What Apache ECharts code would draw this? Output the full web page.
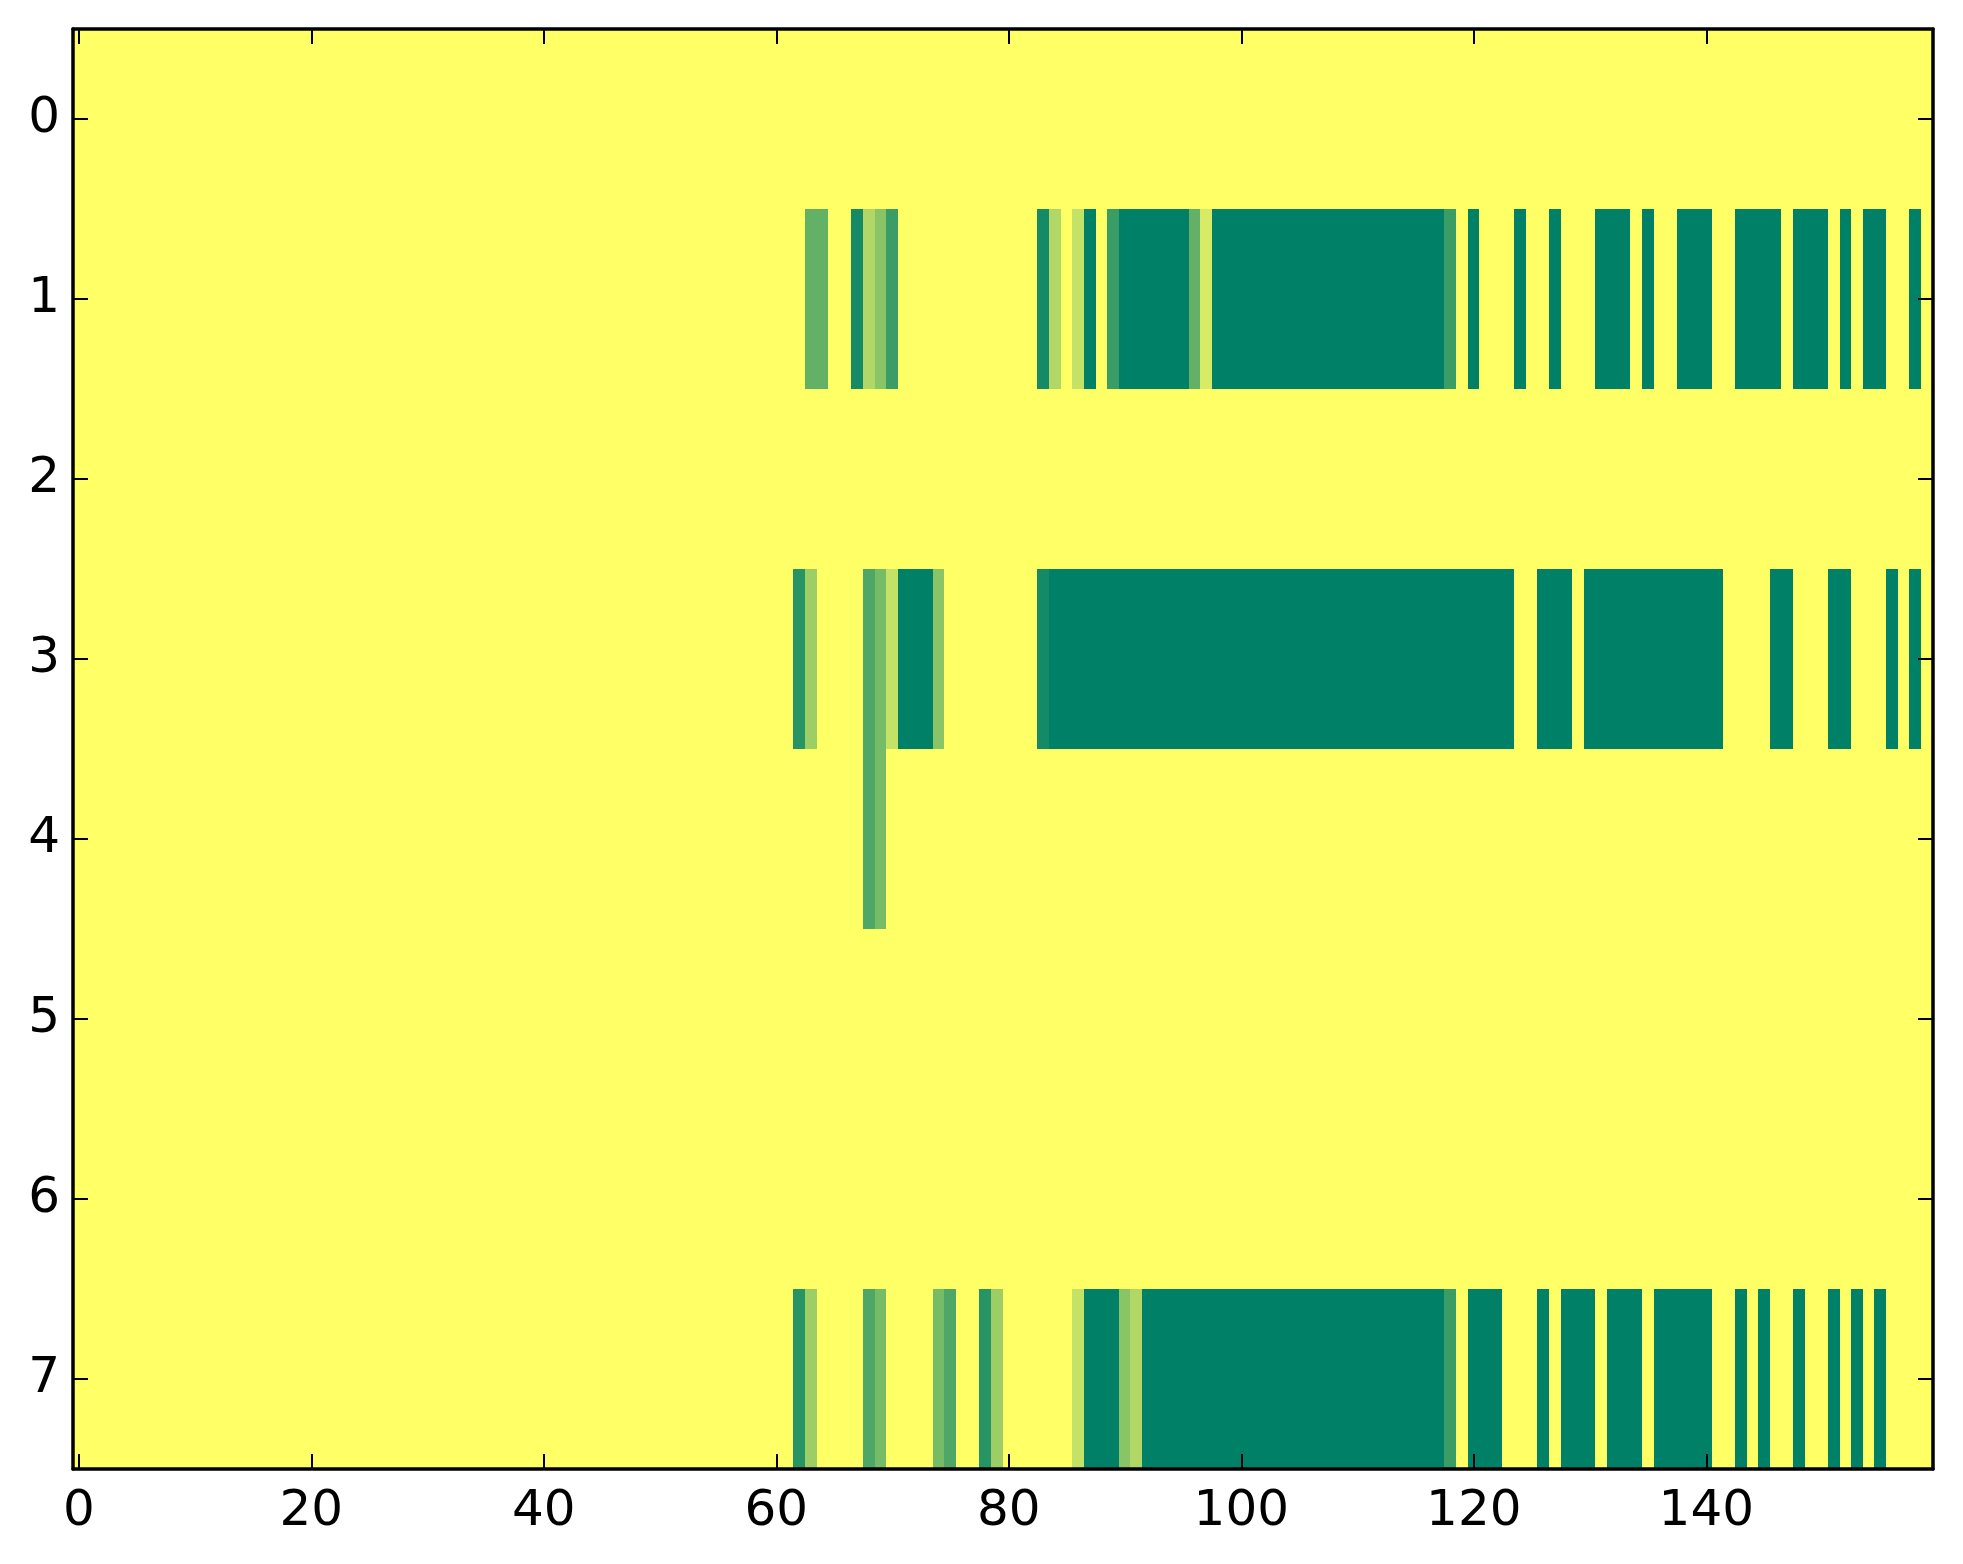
<!DOCTYPE html>
<html>
<head>
<meta charset="utf-8">
<script src="https://cdn.jsdelivr.net/npm/echarts@6/dist/echarts.min.js"></script>
<style>
html,body{margin:0;padding:0;background:#ffffff;}
#chart{width:1963px;height:1564px;}
</style>
</head>
<body>
<div id="chart"></div>
<script>
// Row labels (y axis, top to bottom) and x tick labels
const rowLabels = ['0','1','2','3','4','5','6','7'];
const xTickLabels = ['0','20','40','60','80','100','120','140'];
const columnCount = 160;

// Cell values per row (160 columns each), 0 = yellow, 13 = dark green
const row0 = [
0,0,0,0,0,0,0,0,0,0, 0,0,0,0,0,0,0,0,0,0, 0,0,0,0,0,0,0,0,0,0, 0,0,0,0,0,0,0,0,0,0,
0,0,0,0,0,0,0,0,0,0, 0,0,0,0,0,0,0,0,0,0, 0,0,0,0,0,0,0,0,0,0, 0,0,0,0,0,0,0,0,0,0,
0,0,0,0,0,0,0,0,0,0, 0,0,0,0,0,0,0,0,0,0, 0,0,0,0,0,0,0,0,0,0, 0,0,0,0,0,0,0,0,0,0,
0,0,0,0,0,0,0,0,0,0, 0,0,0,0,0,0,0,0,0,0, 0,0,0,0,0,0,0,0,0,0, 0,0,0,0,0,0,0,0,0,0
];
const row1 = [
0,0,0,0,0,0,0,0,0,0, 0,0,0,0,0,0,0,0,0,0, 0,0,0,0,0,0,0,0,0,0, 0,0,0,0,0,0,0,0,0,0,
0,0,0,0,0,0,0,0,0,0, 0,0,0,0,0,0,0,0,0,0,
0,0,0,8,8,0,0,12,4,6,
10,0,0,0,0,0,0,0,0,0,
0,0,0,12,4,0,3,13,0,10,
13,13,13,13,13,13,8,2,13,13,
13,13,13,13,13,13,13,13,13,13,
13,13,13,13,13,13,13,13,10,0,
13,0,0,0,13,0,0,13,0,0,
0,13,13,13,0,13,0,0,13,13,
13,0,0,13,13,13,13,0,13,13,
13,0,13,0,13,13,0,0,13,0
];
const row2 = [
0,0,0,0,0,0,0,0,0,0, 0,0,0,0,0,0,0,0,0,0, 0,0,0,0,0,0,0,0,0,0, 0,0,0,0,0,0,0,0,0,0,
0,0,0,0,0,0,0,0,0,0, 0,0,0,0,0,0,0,0,0,0, 0,0,0,0,0,0,0,0,0,0, 0,0,0,0,0,0,0,0,0,0,
0,0,0,0,0,0,0,0,0,0, 0,0,0,0,0,0,0,0,0,0, 0,0,0,0,0,0,0,0,0,0, 0,0,0,0,0,0,0,0,0,0,
0,0,0,0,0,0,0,0,0,0, 0,0,0,0,0,0,0,0,0,0, 0,0,0,0,0,0,0,0,0,0, 0,0,0,0,0,0,0,0,0,0
];
const row3 = [
0,0,0,0,0,0,0,0,0,0, 0,0,0,0,0,0,0,0,0,0, 0,0,0,0,0,0,0,0,0,0, 0,0,0,0,0,0,0,0,0,0,
0,0,0,0,0,0,0,0,0,0, 0,0,0,0,0,0,0,0,0,0,
0,0,11,5,0,0,0,0,9,7,
3,13,13,13,6,0,0,0,0,0,
0,0,0,12,13,13,13,13,13,13,
13,13,13,13,13,13,13,13,13,13,
13,13,13,13,13,13,13,13,13,13,
13,13,13,13,13,13,13,13,13,13,
13,13,13,13,0,0,13,13,13,0,
13,13,13,13,13,13,13,13,13,13,
13,13,0,0,0,0,13,13,0,0,
0,13,13,0,0,0,13,0,13,0
];
const row4 = [
0,0,0,0,0,0,0,0,0,0, 0,0,0,0,0,0,0,0,0,0, 0,0,0,0,0,0,0,0,0,0, 0,0,0,0,0,0,0,0,0,0,
0,0,0,0,0,0,0,0,0,0, 0,0,0,0,0,0,0,0,0,0,
0,0,0,0,0,0,0,0,9,7,
0,0,0,0,0,0,0,0,0,0,
0,0,0,0,0,0,0,0,0,0, 0,0,0,0,0,0,0,0,0,0, 0,0,0,0,0,0,0,0,0,0, 0,0,0,0,0,0,0,0,0,0,
0,0,0,0,0,0,0,0,0,0, 0,0,0,0,0,0,0,0,0,0, 0,0,0,0,0,0,0,0,0,0, 0,0,0,0,0,0,0,0,0,0
];
const row5 = [
0,0,0,0,0,0,0,0,0,0, 0,0,0,0,0,0,0,0,0,0, 0,0,0,0,0,0,0,0,0,0, 0,0,0,0,0,0,0,0,0,0,
0,0,0,0,0,0,0,0,0,0, 0,0,0,0,0,0,0,0,0,0, 0,0,0,0,0,0,0,0,0,0, 0,0,0,0,0,0,0,0,0,0,
0,0,0,0,0,0,0,0,0,0, 0,0,0,0,0,0,0,0,0,0, 0,0,0,0,0,0,0,0,0,0, 0,0,0,0,0,0,0,0,0,0,
0,0,0,0,0,0,0,0,0,0, 0,0,0,0,0,0,0,0,0,0, 0,0,0,0,0,0,0,0,0,0, 0,0,0,0,0,0,0,0,0,0
];
const row6 = [
0,0,0,0,0,0,0,0,0,0, 0,0,0,0,0,0,0,0,0,0, 0,0,0,0,0,0,0,0,0,0, 0,0,0,0,0,0,0,0,0,0,
0,0,0,0,0,0,0,0,0,0, 0,0,0,0,0,0,0,0,0,0, 0,0,0,0,0,0,0,0,0,0, 0,0,0,0,0,0,0,0,0,0,
0,0,0,0,0,0,0,0,0,0, 0,0,0,0,0,0,0,0,0,0, 0,0,0,0,0,0,0,0,0,0, 0,0,0,0,0,0,0,0,0,0,
0,0,0,0,0,0,0,0,0,0, 0,0,0,0,0,0,0,0,0,0, 0,0,0,0,0,0,0,0,0,0, 0,0,0,0,0,0,0,0,0,0
];
const row7 = [
0,0,0,0,0,0,0,0,0,0, 0,0,0,0,0,0,0,0,0,0, 0,0,0,0,0,0,0,0,0,0, 0,0,0,0,0,0,0,0,0,0,
0,0,0,0,0,0,0,0,0,0, 0,0,0,0,0,0,0,0,0,0,
0,0,11,5,0,0,0,0,9,7,
0,0,0,0,7,9,0,0,11,5,
0,0,0,0,0,0,3,13,13,13,
6,4,13,13,13,13,13,13,13,13,
13,13,13,13,13,13,13,13,13,13,
13,13,13,13,13,13,13,13,10,0,
13,13,13,0,0,0,13,0,13,13,
13,0,13,13,13,0,13,13,13,13,
13,0,0,13,0,13,0,0,13,0,
0,13,0,13,0,13,0,0,0,0
];
const rows = [row0, row1, row2, row3, row4, row5, row6, row7];
const valueMin = 0;
const valueMax = 13;

// Build library inputs
const colLabels = [];
for (let c = 0; c < columnCount; c++) colLabels.push(String(c));
const cells = [];
rows.forEach(function (row, r) {
  row.forEach(function (v, c) { cells.push([c, r, v]); });
});

const FONT = 'DejaVu Sans';
const showX = function (idx, val) { return xTickLabels.indexOf(String(val)) !== -1; };
const lineStyle = { color: '#000000', width: 3.5 };
const tickStyle = { color: '#000000', width: 2 };

function renderCell(params, api) {
  const p = api.coord([api.value(0), api.value(1)]);
  const s = api.size([1, 1]);
  const w = Math.abs(s[0]), h = Math.abs(s[1]);
  const x0 = Math.floor(p[0] - w / 2), x1 = Math.ceil(p[0] + w / 2);
  const y0 = Math.floor(p[1] - h / 2), y1 = Math.ceil(p[1] + h / 2);
  return {
    type: 'rect',
    shape: { x: x0, y: y0, width: x1 - x0, height: y1 - y0 },
    style: { fill: api.visual('color'), stroke: null },
    silent: true
  };
}

const chart = echarts.init(document.getElementById('chart'), null, { renderer: 'canvas' });
chart.setOption({
  backgroundColor: '#ffffff',
  animation: false,
  grid: { left: 73, right: 30, top: 29, bottom: 95, containLabel: false },
  visualMap: {
    show: false,
    type: 'continuous',
    min: valueMin,
    max: valueMax,
    dimension: 2,
    seriesIndex: 0,
    inRange: { color: ['#FFFF66', '#008066'] }
  },
  xAxis: [
    {
      type: 'category', data: colLabels, position: 'bottom', boundaryGap: true, z: 10,
      axisLine: { show: true, onZero: false, lineStyle: lineStyle },
      axisTick: { show: true, inside: true, length: 15, alignWithLabel: true, interval: showX, lineStyle: tickStyle },
      axisLabel: { show: true, interval: showX, fontSize: 50, fontFamily: FONT, color: '#000000', margin: 18 },
      splitLine: { show: false }
    },
    {
      type: 'category', data: colLabels, position: 'top', boundaryGap: true, z: 10,
      axisLine: { show: true, onZero: false, lineStyle: lineStyle },
      axisTick: { show: true, inside: true, length: 15, alignWithLabel: true, interval: showX, lineStyle: tickStyle },
      axisLabel: { show: false },
      splitLine: { show: false }
    }
  ],
  yAxis: [
    {
      type: 'category', data: rowLabels, position: 'left', inverse: true, boundaryGap: true, z: 10,
      axisLine: { show: true, onZero: false, lineStyle: lineStyle },
      axisTick: { show: true, inside: true, length: 15, alignWithLabel: true, interval: 0, lineStyle: tickStyle },
      axisLabel: { show: true, interval: 0, fontSize: 50, fontFamily: FONT, color: '#000000', margin: 13 },
      splitLine: { show: false }
    },
    {
      type: 'category', data: rowLabels, position: 'right', inverse: true, boundaryGap: true, z: 10,
      axisLine: { show: true, onZero: false, lineStyle: lineStyle },
      axisTick: { show: true, inside: true, length: 15, alignWithLabel: true, interval: 0, lineStyle: tickStyle },
      axisLabel: { show: false },
      splitLine: { show: false }
    }
  ],
  series: [{
    type: 'custom',
    xAxisIndex: 0,
    yAxisIndex: 0,
    data: cells,
    encode: { x: 0, y: 1 },
    renderItem: renderCell,
    clip: true,
    silent: true,
    z: 2
  }]
});
</script>
</body>
</html>
